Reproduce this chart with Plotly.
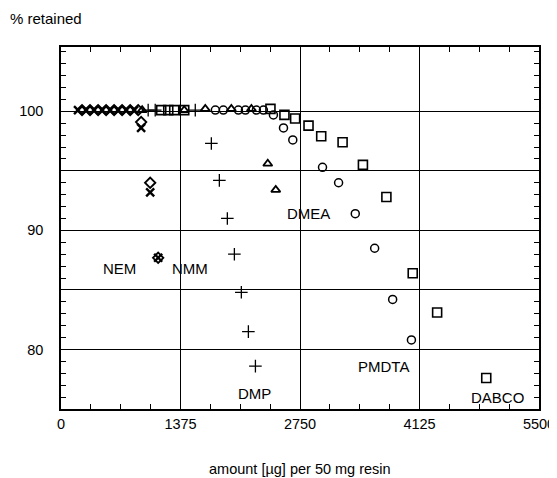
import plotly.graph_objects as go

# NEM (x markers)
nem_x = [196, 288, 380, 473, 565, 657, 750, 842, 922, 1026, 1118]
nem_y = [100.1, 100.1, 100.1, 100.1, 100.1, 100.1, 100.1, 100.1, 98.6, 93.2, 87.7]
# NMM (diamonds)
nmm_x = [242, 334, 427, 519, 611, 703, 796, 888, 922, 1026, 1118]
nmm_y = [100.1, 100.1, 100.1, 100.1, 100.1, 100.1, 100.1, 100.1, 99.1, 94.0, 87.7]
# DMP (+)
dmp_x = [1003, 1084, 1545, 1730, 1822, 1914, 1995, 2075, 2156, 2237]
dmp_y = [100.1, 100.1, 100.1, 97.3, 94.2, 91.0, 88.0, 84.8, 81.5, 78.6]
# DMEA (triangles)
dmea_x = [934, 1418, 1660, 1960, 2191, 2379, 2471]
dmea_y = [100.1, 100.1, 100.2, 100.2, 100.2, 95.6, 93.4]
# PMDTA (circles)
pmdta_x = [1776, 1868, 2041, 2122, 2248, 2329, 2444, 2560, 2667, 3009, 3194, 3386, 3609, 3816, 4032]
pmdta_y = [100.1, 100.1, 100.1, 100.1, 100.1, 100.1, 99.7, 98.6, 97.6, 95.3, 94.0, 91.4, 88.5, 84.2, 80.8]
# DABCO (squares)
dabco_x = [1153, 1234, 1303, 1418, 2410, 2571, 2694, 2848, 2994, 3240, 3474, 3744, 4047, 4328, 4893]
dabco_y = [100.1, 100.1, 100.1, 100.1, 100.2, 99.7, 99.4, 98.8, 97.9, 97.4, 95.5, 92.8, 86.4, 83.1, 77.6]

labels = ["NEM", "NMM", "DMEA", "PMDTA", "DMP", "DABCO"]
label_x = [677, 1484, 2848, 3713, 2225, 5019]
label_y = [86.8, 86.8, 91.4, 78.6, 76.3, 76.0]

x_ticks = [0, 1375, 2750, 4125, 5500]
y_ticks = [80, 85, 90, 95, 100]
y_ticktext = ["80", "", "90", "", "100"]

FONT = "Liberation Sans, Arial, sans-serif"

fig = go.Figure()

def add(xs, ys, symbol, size, lw, name):
    fig.add_trace(go.Scatter(
        x=xs, y=ys, mode="markers", name=name,
        marker=dict(symbol=symbol, size=size, color="black",
                    line=dict(color="black", width=lw)),
        cliponaxis=False))

add(nem_x, nem_y, "x-thin", 8, 2.4, "NEM")
add(nmm_x, nmm_y, "diamond-open", 8, 1.8, "NMM")
add(dmp_x, dmp_y, "cross-thin", 9, 1.3, "DMP")
add(dmea_x, dmea_y, "triangle-up-open", 8, 1.8, "DMEA")
add(pmdta_x, pmdta_y, "circle-open", 8, 1.5, "PMDTA")
add(dabco_x, dabco_y, "square-open", 9, 1.6, "DABCO")

for t, x, y in zip(labels, label_x, label_y):
    fig.add_annotation(x=x, y=y, text=t, showarrow=False,
                       font=dict(size=15, color="black", family=FONT))

fig.add_annotation(xref="paper", yref="paper", x=-0.111, y=1.080, xanchor="left", yanchor="middle",
                   text="% retained", showarrow=False,
                   font=dict(size=15, color="black", family=FONT))

fig.add_annotation(xref="paper", yref="paper", x=0.5, y=-0.166, xanchor="center", yanchor="middle",
                   text="amount [µg] per 50 mg resin", showarrow=False,
                   font=dict(size=14.5, color="black", family=FONT))

axis_common = dict(
    showline=True, linecolor="black", linewidth=1.5, mirror="ticks",
    showgrid=True, gridcolor="black", gridwidth=1.3, zeroline=False,
    ticks="inside", ticklen=6, tickcolor="black", tickwidth=1.3, automargin=False,
    tickfont=dict(size=14.5, color="black", family=FONT),
)

fig.update_xaxes(range=[0, 5500], tickvals=x_ticks, ticklabelstandoff=1,
                 minor=dict(dtick=343.75, tick0=0, ticks="inside", ticklen=5, tickcolor="black", tickwidth=1.2, showgrid=False),
                 **axis_common)
fig.update_yaxes(range=[75, 105.4], tickvals=y_ticks, ticktext=y_ticktext, ticklabelstandoff=13,
                 minor=dict(dtick=1, tick0=0, ticks="inside", ticklen=5, tickcolor="black", tickwidth=1.2, showgrid=False),
                 **axis_common)

# the page body adds an 8px offset, so the figure is sized to the remaining area
fig.update_layout(
    width=549, height=470,
    margin=dict(l=53, r=18, t=39, b=69),
    plot_bgcolor="white", paper_bgcolor="white",
    showlegend=False,
    font=dict(family=FONT, color="black"),
)

fig.write_html("out.html")
